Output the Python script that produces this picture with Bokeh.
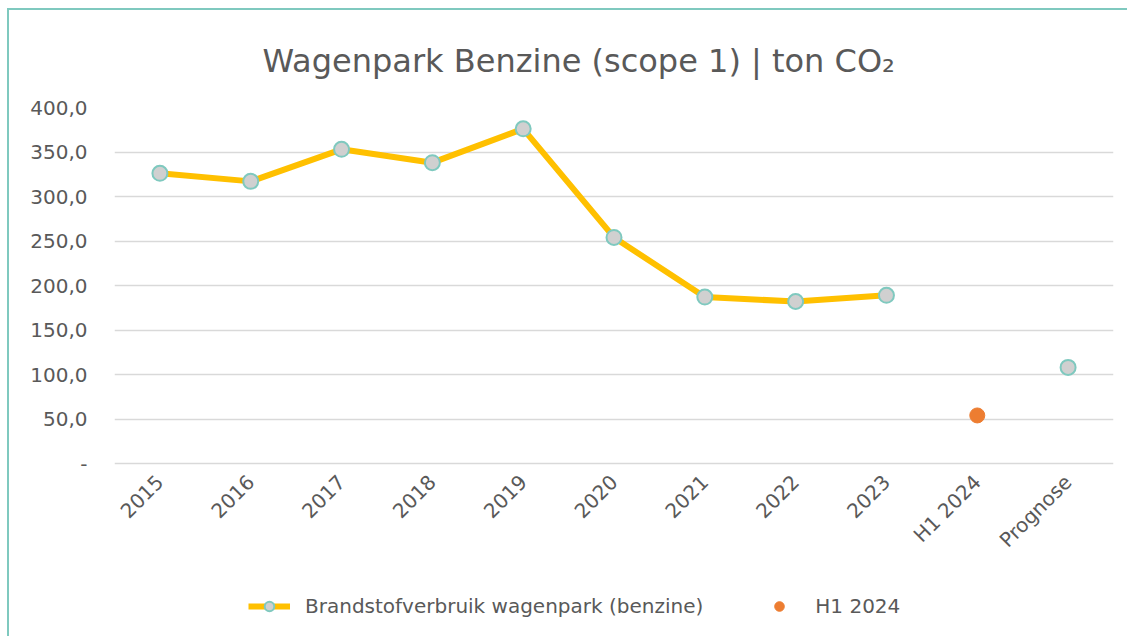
from bokeh.plotting import figure
from bokeh.models import FactorRange, FixedTicker, Legend, LegendItem, ColumnDataSource
from bokeh.core.properties import value
from bokeh.embed import file_html
from bokeh.resources import INLINE
import math

categories = ["2015", "2016", "2017", "2018", "2019", "2020", "2021", "2022", "2023", "H1 2024", "Prognose"]
benzine = [326, 317, 353, 338, 376, 254, 187, 182, 189, float("nan"), 108]
h1_2024_cat = ["H1 2024"]
h1_2024_val = [54]
y_ticks = [0, 50, 100, 150, 200, 250, 300, 350, 400]
y_labels = {0: "-", 50: "50,0", 100: "100,0", 150: "150,0", 200: "200,0",
            250: "250,0", 300: "300,0", 350: "350,0", 400: "400,0"}

FONT = "DejaVu Sans"
TXT = "#595959"
BORDER = "#7FC9BF"

# frame extends below the value axis so that the legend can sit inside it
FRAME_H = 513
Y_TOP = 400
Y_BOTTOM = Y_TOP - FRAME_H * 400 / 356

p = figure(x_range=FactorRange(factors=categories), y_range=(Y_BOTTOM, Y_TOP),
           output_backend="svg", toolbar_location=None, x_axis_location=None,
           title="Wagenpark Benzine (scope 1) | ton CO₂")
p.frame_width = 999
p.frame_height = FRAME_H
p.min_border_left = 114
p.min_border_right = 14
p.min_border_top = 107
p.min_border_bottom = 16
p.border_fill_color = None
p.background_fill_color = "white"

p.title.align = "left"
p.title.offset = 148
p.title.text_font = FONT
p.title.text_font_size = "32px"
p.title.text_font_style = "normal"
p.title.text_color = TXT
p.title.standoff = 56

p.outline_line_color = None
p.xgrid.grid_line_color = None
p.ygrid.ticker = FixedTicker(ticks=y_ticks)
p.ygrid.grid_line_color = "#D9D9D9"
p.ygrid.grid_line_width = 1.5

p.yaxis.ticker = FixedTicker(ticks=y_ticks)
p.yaxis.major_label_overrides = y_labels
p.yaxis.axis_line_color = None
p.yaxis.major_tick_line_color = None
p.yaxis.minor_tick_line_color = None
p.yaxis.major_label_text_font = FONT
p.yaxis.major_label_text_font_size = "20px"
p.yaxis.major_label_text_color = TXT
p.yaxis.major_label_standoff = 21

# category labels, rotated 45 degrees, hanging below the zero line
lab_src = ColumnDataSource(data=dict(x=categories))
p.text(x="x", y=0, text="x", source=lab_src, angle=math.pi / 4,
       text_align="right", text_baseline="middle", x_offset=0, y_offset=15,
       text_font=value(FONT), text_font_size="20px", text_color=TXT)

src = ColumnDataSource(data=dict(x=categories, y=benzine))
ln = p.line("x", "y", source=src, line_color="#FFC000", line_width=6)
sc = p.scatter("x", "y", source=src, size=15, fill_color="#D0D0D0",
               line_color=BORDER, line_width=2)
h1 = p.scatter(h1_2024_cat, h1_2024_val, size=15, fill_color="#ED7D31", line_color="#ED7D31")

legend = Legend(items=[LegendItem(label="Brandstofverbruik wagenpark (benzine)", renderers=[ln, sc]),
                       LegendItem(label="H1 2024", renderers=[h1])],
                orientation="horizontal", location=(134, 2),
                label_text_font=FONT, label_text_font_size="20px", label_text_color=TXT,
                border_line_color=None, background_fill_alpha=0,
                glyph_width=42, glyph_height=24, label_standoff=15, spacing=55, margin=0, padding=0)
p.add_layout(legend, "center")

p.styles = {"background": (f"linear-gradient({BORDER},{BORDER}) 7px 8px / 2px 100% no-repeat, "
                           f"linear-gradient({BORDER},{BORDER}) 7px 8px / 100% 2px no-repeat, white")}

open("out.html", "w").write(file_html(p, INLINE))
